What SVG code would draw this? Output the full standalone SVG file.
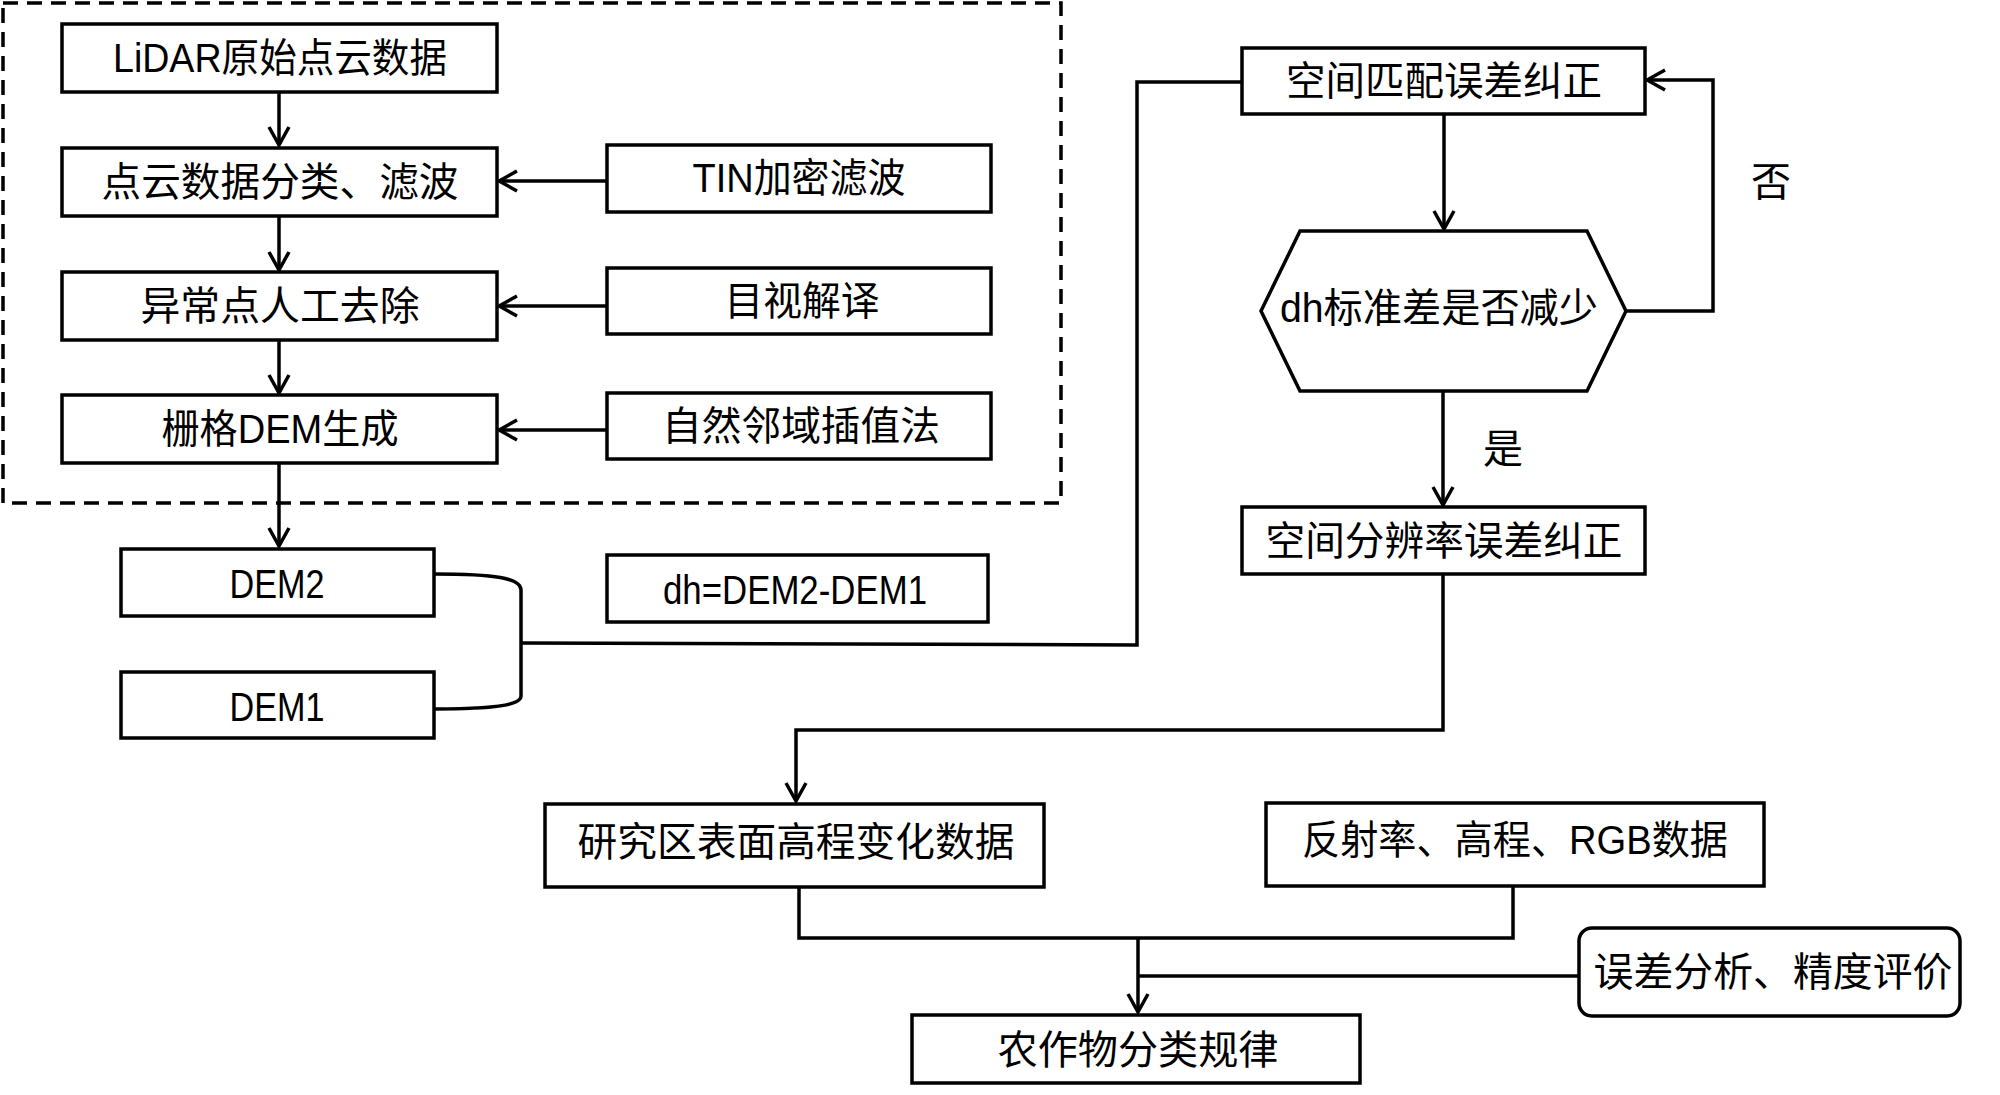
<svg xmlns="http://www.w3.org/2000/svg" width="2000" height="1095" viewBox="0 0 2000 1095">
<style>
.box{fill:#fff;stroke:#000;stroke-width:3.5}
.ln{fill:none;stroke:#000;stroke-width:3.5}
.t{font-family:"Liberation Sans","Noto Sans CJK SC",sans-serif;font-size:40px;fill:#000;text-anchor:middle;dominant-baseline:central}
</style>
<defs>
<marker id="ah" markerUnits="userSpaceOnUse" markerWidth="24" markerHeight="24" viewBox="0 0 24 24" refX="21" refY="12" orient="auto">
<path d="M3,2 L21,12 L3,22" fill="none" stroke="#000" stroke-width="3.5"/>
</marker>
</defs>
<rect width="2000" height="1095" fill="#fff"/>
<rect x="3" y="3" width="1058" height="500" fill="none" stroke="#000" stroke-width="3.5" stroke-dasharray="15 9"/>
<g id="connectors">
<path class="ln" d="M279,92 V145" marker-end="url(#ah)"/>
<path class="ln" d="M279,216 V270" marker-end="url(#ah)"/>
<path class="ln" d="M279,340 V393" marker-end="url(#ah)"/>
<path class="ln" d="M279,463 V546" marker-end="url(#ah)"/>
<path class="ln" d="M607,181 H499" marker-end="url(#ah)"/>
<path class="ln" d="M607,306 H499" marker-end="url(#ah)"/>
<path class="ln" d="M607,430 H499" marker-end="url(#ah)"/>
<path class="ln" d="M434,574 C495,574 521,578 521,590 V696 C521,705 495,709 434,709"/>
<path class="ln" d="M521,643 L1137,645 V82 H1242"/>
<path class="ln" d="M1444,114 V229" marker-end="url(#ah)"/>
<path class="ln" d="M1626,311 H1713 V80 H1647" marker-end="url(#ah)"/>
<path class="ln" d="M1443,391 V505" marker-end="url(#ah)"/>
<path class="ln" d="M1443,574 V730 H796 V801" marker-end="url(#ah)"/>
<path class="ln" d="M799,887 V938 H1513 V886"/>
<path class="ln" d="M1138,938 V1012" marker-end="url(#ah)"/>
<path class="ln" d="M1579,976 H1138"/>
</g>
<g id="n1"><rect class="box" x="62" y="24" width="435" height="68"/><text class="t" x="280" y="58" textLength="334" lengthAdjust="spacingAndGlyphs">LiDAR原始点云数据</text></g>
<g id="n2"><rect class="box" x="62" y="148" width="435" height="68"/><text class="t" x="280" y="182" textLength="357" lengthAdjust="spacingAndGlyphs">点云数据分类、滤波</text></g>
<g id="n3"><rect class="box" x="607" y="145" width="384" height="67"/><text class="t" x="799" y="178" textLength="213" lengthAdjust="spacingAndGlyphs">TIN加密滤波</text></g>
<g id="n4"><rect class="box" x="62" y="272" width="435" height="68"/><text class="t" x="280" y="306" textLength="279" lengthAdjust="spacingAndGlyphs">异常点人工去除</text></g>
<g id="n5"><rect class="box" x="607" y="268" width="384" height="66"/><text class="t" x="802" y="301" textLength="155" lengthAdjust="spacingAndGlyphs">目视解译</text></g>
<g id="n6"><rect class="box" x="62" y="395" width="435" height="68"/><text class="t" x="280" y="429" textLength="237" lengthAdjust="spacingAndGlyphs">栅格DEM生成</text></g>
<g id="n7"><rect class="box" x="607" y="393" width="384" height="66"/><text class="t" x="801" y="426" textLength="278" lengthAdjust="spacingAndGlyphs">自然邻域插值法</text></g>
<g id="n8"><rect class="box" x="121" y="549" width="313" height="67"/><text class="t" x="277" y="584" textLength="95" lengthAdjust="spacingAndGlyphs">DEM2</text></g>
<g id="n9"><rect class="box" x="121" y="672" width="313" height="66"/><text class="t" x="277" y="707" textLength="95" lengthAdjust="spacingAndGlyphs">DEM1</text></g>
<g id="n10"><rect class="box" x="607" y="555" width="381" height="67"/><text class="t" x="795" y="590" textLength="264" lengthAdjust="spacingAndGlyphs">dh=DEM2-DEM1</text></g>
<g id="n11"><rect class="box" x="1242" y="48" width="403" height="66"/><text class="t" x="1444" y="81" textLength="316" lengthAdjust="spacingAndGlyphs">空间匹配误差纠正</text></g>
<g id="n12"><polygon class="box" points="1300,231 1587,231 1626,311 1587,391 1300,391 1261,311"/><text class="t" x="1439" y="308" textLength="318" lengthAdjust="spacingAndGlyphs">dh标准差是否减少</text></g>
<g id="n13"><rect class="box" x="1242" y="507" width="403" height="67"/><text class="t" x="1444" y="541" textLength="357" lengthAdjust="spacingAndGlyphs">空间分辨率误差纠正</text></g>
<g id="n14"><rect class="box" x="545" y="804" width="499" height="83"/><text class="t" x="796" y="842" textLength="437" lengthAdjust="spacingAndGlyphs">研究区表面高程变化数据</text></g>
<g id="n15"><rect class="box" x="1266" y="803" width="498" height="83"/><text class="t" x="1515" y="840" textLength="426" lengthAdjust="spacingAndGlyphs">反射率、高程、RGB数据</text></g>
<g id="n16"><rect class="box" x="1579" y="928" width="381" height="88" rx="13"/><text class="t" x="1773" y="972" textLength="359" lengthAdjust="spacingAndGlyphs">误差分析、精度评价</text></g>
<g id="n17"><rect class="box" x="912" y="1015" width="448" height="68"/><text class="t" x="1138" y="1050" textLength="281" lengthAdjust="spacingAndGlyphs">农作物分类规律</text></g>
<text class="t" x="1503" y="449">是</text>
<text class="t" x="1771" y="182">否</text>
</svg>
